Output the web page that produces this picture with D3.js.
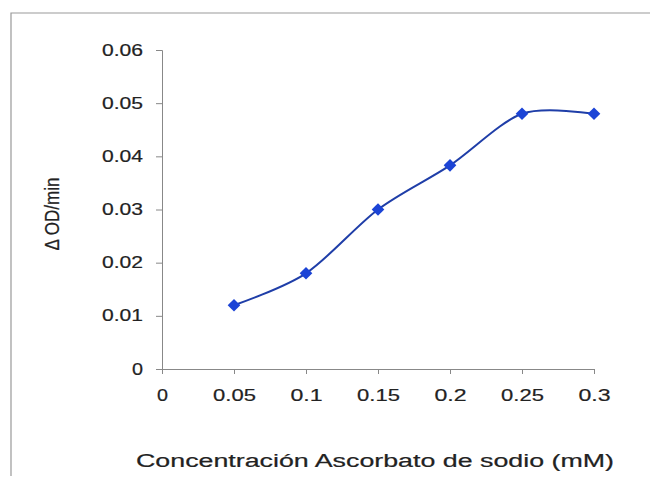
<!DOCTYPE html>
<html><head><meta charset="utf-8">
<script src="https://cdn.jsdelivr.net/npm/d3@7"></script>
<style>body{margin:0;background:#fff}svg{display:block}text{font-family:"Liberation Sans",Arial,sans-serif;fill:#222}</style>
</head><body>
<svg id="c" width="650" height="477"></svg>
<script>
const concentrations = [0.05, 0.1, 0.15, 0.2, 0.25, 0.3];
const odPerMin = [0.012, 0.018, 0.030, 0.0383, 0.048, 0.048];
const xTicks = [0, 0.05, 0.1, 0.15, 0.2, 0.25, 0.3];
const yTicks = [0, 0.01, 0.02, 0.03, 0.04, 0.05, 0.06];
const xTitle = "Concentración Ascorbato de sodio (mM)";
const yTitle = "Δ OD/min";

const svg = d3.select("#c");
const x = d3.scaleLinear().domain([0, 0.3]).range([162, 594]);
const y = d3.scaleLinear().domain([0, 0.06]).range([369, 50]);
const textStyle = sel => sel.style("font-family","'Liberation Sans',Arial,sans-serif").attr("fill","#222").attr("stroke","#222").attr("stroke-width",0.2);

// outer frame (top + left visible)
svg.append("path").attr("d","M11,476 V13 H650").attr("fill","none").attr("stroke","#999").attr("stroke-width",1.2);

// y axis
const ya = svg.append("g").attr("transform","translate(162,0)")
  .call(d3.axisLeft(y).tickValues(yTicks).tickSize(6).tickFormat(d=>d===0?"0":d3.format(".2f")(d)));
ya.select(".domain").attr("stroke","#888");
ya.selectAll(".tick line").attr("stroke","#888");
ya.selectAll(".tick text").attr("x",-19).attr("font-size",16).call(textStyle)
  .each(function(d){ d3.select(this).attr("textLength",d===0?11:41).attr("lengthAdjust","spacingAndGlyphs"); });

// x axis
const xa = svg.append("g").attr("transform","translate(0,369)")
  .call(d3.axisBottom(x).tickValues(xTicks).tickSize(5).tickFormat(d=>d===0?"0":String(d)));
xa.select(".domain").attr("stroke","#888");
xa.selectAll(".tick line").attr("stroke","#888");
xa.selectAll(".tick text").attr("y",21).attr("font-size",16).call(textStyle)
  .each(function(d){ const s=String(d); const w = d===0?11: s.length*10.7; d3.select(this).attr("textLength",w).attr("lengthAdjust","spacingAndGlyphs"); });

// titles
svg.append("text").attr("x",375).attr("y",467).attr("text-anchor","middle").attr("font-size",18).call(textStyle)
  .attr("textLength",478).attr("lengthAdjust","spacingAndGlyphs").text(xTitle);
svg.append("text").attr("transform","translate(59,214) scale(1.3,1) rotate(-90)").attr("text-anchor","middle").attr("font-size",15).call(textStyle)
  .attr("textLength",73).attr("lengthAdjust","spacingAndGlyphs").text(yTitle);

// line
const pts = concentrations.map((c,i)=>[c, odPerMin[i]]);
const line = d3.line().x(d=>x(d[0])).y(d=>y(d[1])).curve(d3.curveCardinal.tension(0.1));
svg.append("path").datum(pts).attr("d",line).attr("fill","none").attr("stroke","#1f3ea8").attr("stroke-width",2);

// markers
svg.selectAll(".m").data(pts).enter().append("path").attr("class","m")
  .attr("transform",d=>`translate(${x(d[0])},${y(d[1])}) rotate(45)`)
  .attr("d", d3.symbol().type(d3.symbolSquare).size(80))
  .attr("fill","#1c44d6");
</script>
</body></html>
